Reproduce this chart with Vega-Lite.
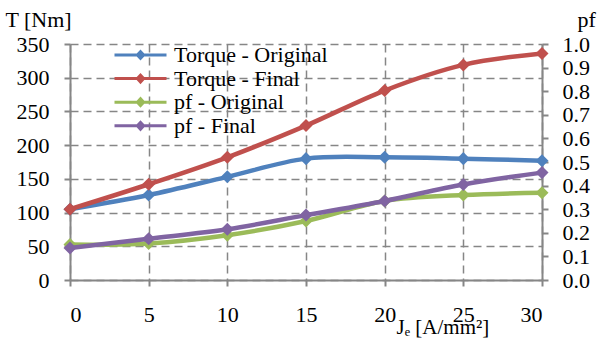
{
  "$schema": "https://vega.github.io/schema/vega-lite/v6.json",
  "autosize": {"type": "none"},
  "padding": {"left": 70, "top": 44, "right": 61, "bottom": 59},
  "width": 472,
  "height": 236,
  "background": "white",
  "config": {
    "view": {"stroke": null},
    "font": "Liberation Serif, Times New Roman, serif",
    "axis": {
      "labelFont": "Liberation Serif, Times New Roman, serif",
      "labelFontSize": 22,
      "labelColor": "#000000",
      "titleFont": "Liberation Serif, Times New Roman, serif",
      "titleFontSize": 22,
      "titleFontWeight": "normal",
      "titleColor": "#000000",
      "domainColor": "#868686",
      "domainWidth": 2,
      "tickColor": "#868686",
      "tickWidth": 2,
      "tickSize": 6,
      "gridColor": "#868686",
      "gridWidth": 1.5,
      "gridDash": [8, 5],
      "gridOpacity": 1
    },
    "legend": {
      "labelFont": "Liberation Serif, Times New Roman, serif",
      "labelFontSize": 22,
      "labelColor": "#000000"
    }
  },
  "data": {
    "values": [
      {"je": 0, "series": "Torque - Original", "value": 105},
      {"je": 5, "series": "Torque - Original", "value": 126},
      {"je": 10, "series": "Torque - Original", "value": 153},
      {"je": 15, "series": "Torque - Original", "value": 180},
      {"je": 20, "series": "Torque - Original", "value": 182},
      {"je": 25, "series": "Torque - Original", "value": 180},
      {"je": 30, "series": "Torque - Original", "value": 177},
      {"je": 0, "series": "Torque - Final", "value": 105},
      {"je": 5, "series": "Torque - Final", "value": 142},
      {"je": 10, "series": "Torque - Final", "value": 182},
      {"je": 15, "series": "Torque - Final", "value": 229},
      {"je": 20, "series": "Torque - Final", "value": 281},
      {"je": 25, "series": "Torque - Final", "value": 319},
      {"je": 30, "series": "Torque - Final", "value": 336},
      {"je": 0, "series": "pf - Original", "value": 0.15},
      {"je": 5, "series": "pf - Original", "value": 0.155},
      {"je": 10, "series": "pf - Original", "value": 0.19},
      {"je": 15, "series": "pf - Original", "value": 0.25},
      {"je": 20, "series": "pf - Original", "value": 0.335},
      {"je": 25, "series": "pf - Original", "value": 0.36},
      {"je": 30, "series": "pf - Original", "value": 0.37},
      {"je": 0, "series": "pf - Final", "value": 0.136},
      {"je": 5, "series": "pf - Final", "value": 0.175},
      {"je": 10, "series": "pf - Final", "value": 0.215},
      {"je": 15, "series": "pf - Final", "value": 0.275},
      {"je": 20, "series": "pf - Final", "value": 0.335},
      {"je": 25, "series": "pf - Final", "value": 0.405},
      {"je": 30, "series": "pf - Final", "value": 0.455}
    ]
  },
  "encoding": {
    "x": {
      "field": "je",
      "type": "quantitative",
      "scale": {"domain": [0, 30], "nice": false},
      "axis": {
        "values": [0, 5, 10, 15, 20, 25, 30],
        "labelPadding": 18,
        "title": "Jₑ [A/mm²]",
        "titleAnchor": "start",
        "titleAlign": "left",
        "titleBaseline": "alphabetic",
        "titleFontSize": 21,
        "titleX": 326,
        "titleY": 53
      }
    },
    "color": {
      "field": "series",
      "type": "nominal",
      "scale": {
        "domain": ["Torque - Original", "Torque - Final", "pf - Original", "pf - Final"],
        "range": ["#4F81BD", "#C0504D", "#9BBB59", "#8064A2"]
      },
      "legend": {
        "title": null,
        "orient": "none",
        "legendX": 43,
        "legendY": 0,
        "padding": 0,
        "symbolType": "M-1,0H1M-0.12,0L0,-0.13L0.12,0L0,0.13Z",
        "symbolSize": 2704,
        "symbolStrokeWidth": 3,
        "clipHeight": 22,
        "rowPadding": 1.6,
        "labelOffset": 6,
        "labelLimit": 300,
        "encode": {
          "symbols": {
            "update": {
              "fill": {"scale": "color", "field": "value"},
              "stroke": {"scale": "color", "field": "value"},
              "opacity": {"value": 1},
              "fillOpacity": {"value": 1}
            }
          }
        }
      }
    }
  },
  "layer": [
    {
      "encoding": {
        "y": {
          "field": "value",
          "type": "quantitative",
          "scale": {"domain": [0, 350], "nice": false},
          "axis": {
            "orient": "left",
            "values": [0, 50, 100, 150, 200, 250, 300, 350],
            "labelPadding": 15,
            "title": "T [Nm]",
            "titleAngle": 0,
            "titleAlign": "left",
            "titleBaseline": "alphabetic",
            "titleX": -65,
            "titleY": -18
          }
        }
      },
      "layer": [
        {
          "transform": [{"filter": "datum.series === 'Torque - Original'"}],
          "mark": {"type": "line", "strokeWidth": 4.5, "interpolate": "catmull-rom"}
        },
        {
          "transform": [{"filter": "datum.series === 'Torque - Original'"}],
          "mark": {"type": "point", "shape": "diamond", "filled": true, "size": 170, "opacity": 1}
        },
        {
          "transform": [{"filter": "datum.series === 'Torque - Final'"}],
          "mark": {"type": "line", "strokeWidth": 4.5, "interpolate": "catmull-rom"}
        },
        {
          "transform": [{"filter": "datum.series === 'Torque - Final'"}],
          "mark": {"type": "point", "shape": "diamond", "filled": true, "size": 170, "opacity": 1}
        }
      ]
    },
    {
      "encoding": {
        "y": {
          "field": "value",
          "type": "quantitative",
          "scale": {"domain": [0, 1], "nice": false},
          "axis": {
            "orient": "right",
            "grid": false,
            "values": [0, 0.1, 0.2, 0.3, 0.4, 0.5, 0.6, 0.7, 0.8, 0.9, 1.0],
            "format": ".1f",
            "labelPadding": 14,
            "title": "pf",
            "titleAngle": 0,
            "titleAlign": "left",
            "titleBaseline": "alphabetic",
            "titleX": 35,
            "titleY": -18
          }
        }
      },
      "layer": [
        {
          "transform": [{"filter": "datum.series === 'pf - Original'"}],
          "mark": {"type": "line", "strokeWidth": 4.5, "interpolate": "catmull-rom"}
        },
        {
          "transform": [{"filter": "datum.series === 'pf - Original'"}],
          "mark": {"type": "point", "shape": "diamond", "filled": true, "size": 170, "opacity": 1}
        },
        {
          "transform": [{"filter": "datum.series === 'pf - Final'"}],
          "mark": {"type": "line", "strokeWidth": 4.5, "interpolate": "catmull-rom"}
        },
        {
          "transform": [{"filter": "datum.series === 'pf - Final'"}],
          "mark": {"type": "point", "shape": "diamond", "filled": true, "size": 170, "opacity": 1}
        }
      ]
    }
  ],
  "resolve": {"scale": {"y": "independent"}, "axis": {"y": "independent"}}
}
